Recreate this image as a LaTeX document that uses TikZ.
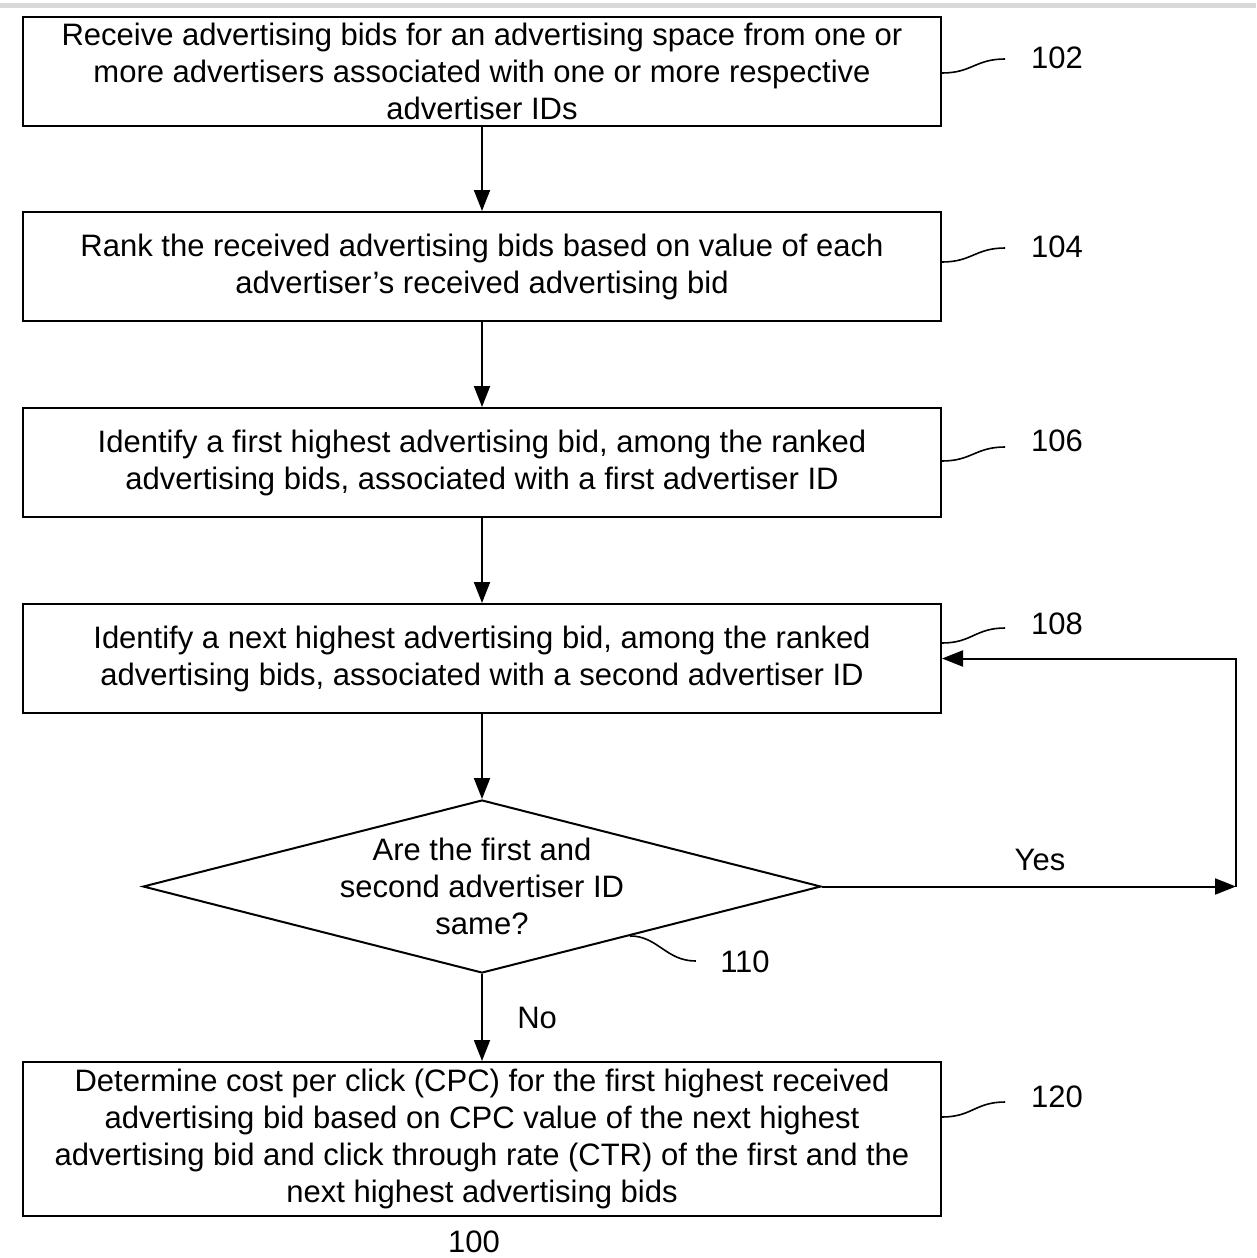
\documentclass[tikz,border=0pt]{standalone}
\usepackage{fontspec}
\setmainfont{Liberation Sans}
\usetikzlibrary{arrows.meta,shapes.geometric,calc}
\begin{document}
\begin{tikzpicture}[
    x=1pt,y=-1pt,
    line width=2pt,
    >={Triangle[length=21pt,width=16pt]},
    every node/.style={font=\fontsize{31}{37}\selectfont},
    stepbox/.style={
        draw,
        rectangle,
        minimum width=918pt,
        minimum height=109pt,
        align=center,
        inner sep=0pt
    },
    decision/.style={
        draw,
        diamond,
        minimum width=678pt,
        minimum height=173pt,
        inner sep=0pt
    },
    refnum/.style={inner sep=0pt},
    lead/.style={line width=1.6pt},
    flow/.style={->}
  ]
  \useasboundingbox (0,0) rectangle (1256,1258);
  \fill[black!15] (0,3) rectangle (1256,8);

  % process boxes
  \node[stepbox] (b1) at (482,71.5) {Receive advertising bids for an advertising space from one or\\more advertisers associated with one or more respective\\advertiser IDs};
  \node[stepbox] (b2) at (482,266.5) {Rank the received advertising bids based on value of each\\advertiser’s received advertising bid};
  \node[stepbox] (b3) at (482,462.5) {Identify a first highest advertising bid, among the ranked\\advertising bids, associated with a first advertiser ID};
  \node[stepbox] (b4) at (482,658.5) {Identify a next highest advertising bid, among the ranked\\advertising bids, associated with a second advertiser ID};
  \node[decision] (dec) at (482,886.5) {};
  \node[align=center] (dectext) at (dec.center) {Are the first and\\second advertiser ID\\same?};
  \node[stepbox,minimum height=154pt] (b5) at (482,1139) {Determine cost per click (CPC) for the first highest received\\advertising bid based on CPC value of the next highest\\advertising bid and click through rate (CTR) of the first and the\\next highest advertising bids};

  % reference numerals
  \node[refnum] (n102) at (1057,58) {102};
  \node[refnum] (n104) at (1057,247) {104};
  \node[refnum] (n106) at (1057,441) {106};
  \node[refnum] (n108) at (1057,624) {108};
  \node[refnum] (n110) at (745,962) {110};
  \node[refnum] (n120) at (1057,1097) {120};
  \node[refnum] (n100) at (474,1242) {100};

  \draw[lead] ($(b1.east)+(0,1.5)$) .. controls +(30,0) and +(-30,0) .. ($(n102.west)+(-25,1)$);
  \draw[lead] ($(b2.east)+(0,-4.5)$) .. controls +(30,0) and +(-30,0) .. ($(n104.west)+(-25,1)$);
  \draw[lead] ($(b3.east)+(0,-1.5)$) .. controls +(30,0) and +(-30,0) .. ($(n106.west)+(-25,6)$);
  \draw[lead] ($(b4.east)+(0,-15.5)$) .. controls +(30,0) and +(-30,0) .. ($(n108.west)+(-25,4)$);
  \draw[lead] ($(b5.east)+(0,-22)$) .. controls +(30,0) and +(-30,0) .. ($(n120.west)+(-25,5)$);
  \draw[lead] ($(dec.east)!0.565!(dec.south)$) .. controls +(28,0) and +(-30,0) .. ($(n110.west)+(-23.5,-1)$);

  % connectors
  \draw[flow] (b1) -- (b2);
  \draw[flow] (b2) -- (b3);
  \draw[flow] (b3) -- (b4);
  \draw[flow] (b4) -- (dec);
  \draw[flow] (dec) -- node[right=31pt,pos=0.5] (no) {No} (b5);
  \coordinate (yc) at (1236,886.5);
  \draw[flow] (dec.east) -- (yc);
  \draw[flow] (yc) |- (b4.east);
  \node (yes) at (1040,860) {Yes};
\end{tikzpicture}
\end{document}
